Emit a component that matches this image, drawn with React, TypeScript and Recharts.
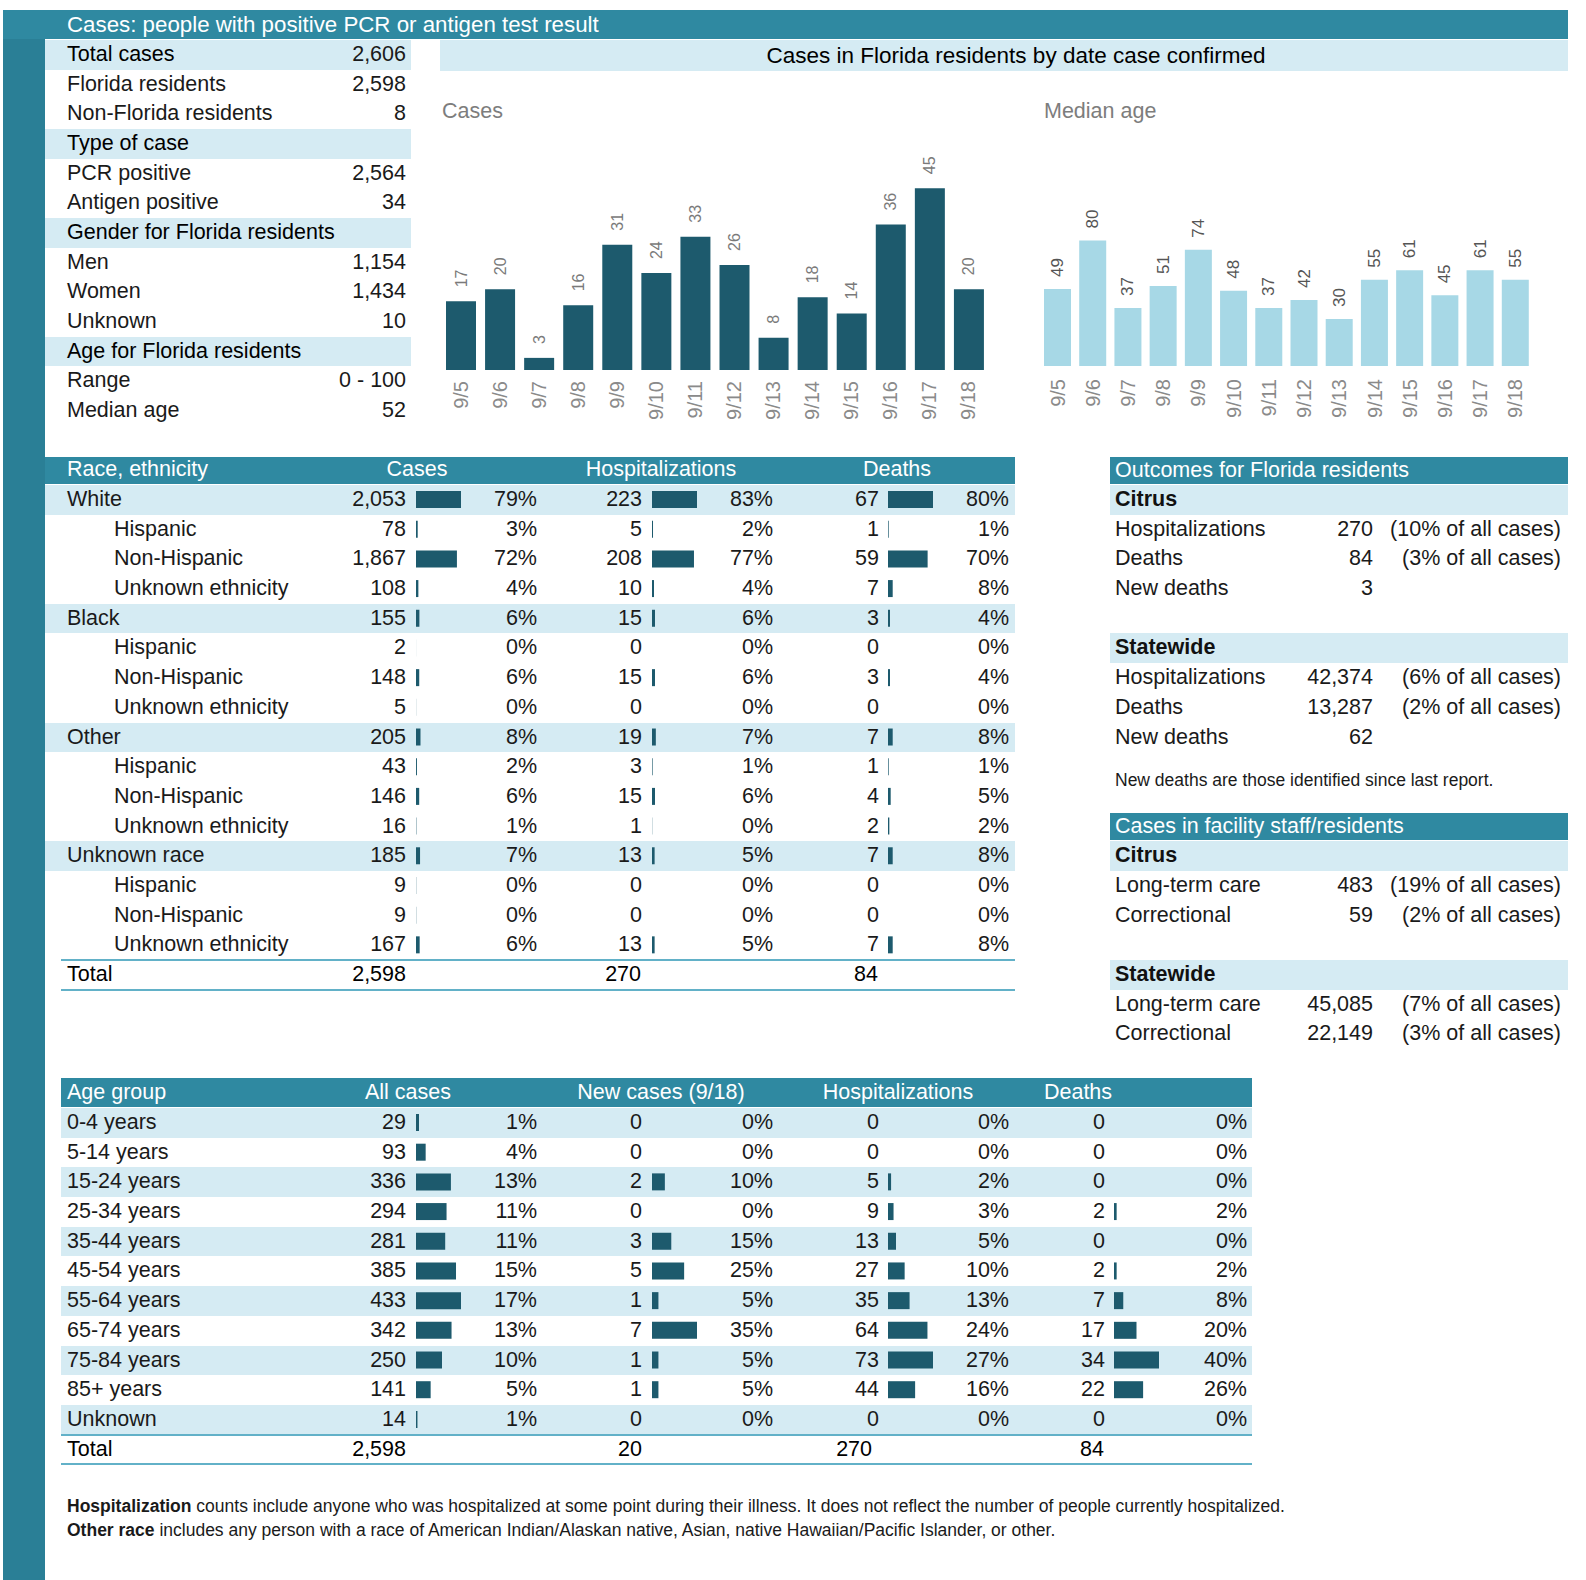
import React from "react";
import { BarChart, Bar, XAxis, YAxis, LabelList } from "recharts";

const FONT = '"Liberation Sans", Arial, Helvetica, sans-serif';
const TEAL = "#2f89a1";
const STRIPE = "#2a7f96";
const BAND = "#d5ebf3";
const DARK = "#1d5a6d";
const LIGHT = "#a7d8e6";
const RULE = "#62b1c8";
const ROW = 29.69;
const FS = 21.5;

// summary block
const summaryLabels = [
  "Total cases",
  "Florida residents",
  "Non-Florida residents",
  "Type of case",
  "PCR positive",
  "Antigen positive",
  "Gender for Florida residents",
  "Men",
  "Women",
  "Unknown",
  "Age for Florida residents",
  "Range",
  "Median age",
];
const summaryValues = ["2,606", "2,598", "8", "", "2,564", "34", "", "1,154", "1,434", "10", "", "0 - 100", "52"];
const summaryBandRows = [0, 3, 6, 10];

// daily charts
const dates = ["9/5", "9/6", "9/7", "9/8", "9/9", "9/10", "9/11", "9/12", "9/13", "9/14", "9/15", "9/16", "9/17", "9/18"];
const dailyCases = [17, 20, 3, 16, 31, 24, 33, 26, 8, 18, 14, 36, 45, 20];
const dailyMedianAge = [49, 80, 37, 51, 74, 48, 37, 42, 30, 55, 61, 45, 61, 55];

// race / ethnicity table
const raceGroups = ["White", "Black", "Other", "Unknown race"];
const ethnicities = ["Hispanic", "Non-Hispanic", "Unknown ethnicity"];
const raceCases = [2053, 78, 1867, 108, 155, 2, 148, 5, 205, 43, 146, 16, 185, 9, 9, 167];
const raceCasesPct = [79, 3, 72, 4, 6, 0, 6, 0, 8, 2, 6, 1, 7, 0, 0, 6];
const raceHosp = [223, 5, 208, 10, 15, 0, 15, 0, 19, 3, 15, 1, 13, 0, 0, 13];
const raceHospPct = [83, 2, 77, 4, 6, 0, 6, 0, 7, 1, 6, 0, 5, 0, 0, 5];
const raceDeaths = [67, 1, 59, 7, 3, 0, 3, 0, 7, 1, 4, 2, 7, 0, 0, 7];
const raceDeathsPct = [80, 1, 70, 8, 4, 0, 4, 0, 8, 1, 5, 2, 8, 0, 0, 8];
const raceTotals = ["2,598", "270", "84"];

// age table
const ageGroups = ["0-4 years", "5-14 years", "15-24 years", "25-34 years", "35-44 years", "45-54 years", "55-64 years", "65-74 years", "75-84 years", "85+ years", "Unknown"];
const ageCases = [29, 93, 336, 294, 281, 385, 433, 342, 250, 141, 14];
const ageCasesPct = [1, 4, 13, 11, 11, 15, 17, 13, 10, 5, 1];
const ageNew = [0, 0, 2, 0, 3, 5, 1, 7, 1, 1, 0];
const ageNewPct = [0, 0, 10, 0, 15, 25, 5, 35, 5, 5, 0];
const ageHosp = [0, 0, 5, 9, 13, 27, 35, 64, 73, 44, 0];
const ageHospPct = [0, 0, 2, 3, 5, 10, 13, 24, 27, 16, 0];
const ageDeaths = [0, 0, 0, 2, 0, 2, 7, 17, 34, 22, 0];
const ageDeathsPct = [0, 0, 0, 2, 0, 2, 8, 20, 40, 26, 0];
const ageTotals = ["2,598", "20", "270", "84"];

// outcomes / facilities
const outcomeLabels = ["Hospitalizations", "Deaths", "New deaths"];
const outcomeCitrus = ["270", "84", "3"];
const outcomeCitrusNote = ["(10% of all cases)", "(3% of all cases)", ""];
const outcomeState = ["42,374", "13,287", "62"];
const outcomeStateNote = ["(6% of all cases)", "(2% of all cases)", ""];
const facilityLabels = ["Long-term care", "Correctional"];
const facilityCitrus = ["483", "59"];
const facilityCitrusNote = ["(19% of all cases)", "(2% of all cases)"];
const facilityState = ["45,085", "22,149"];
const facilityStateNote = ["(7% of all cases)", "(3% of all cases)"];

type TxtProps = {
  x: number;
  y: number;
  h?: number;
  align?: "left" | "right" | "center";
  size?: number;
  color?: string;
  weight?: number;
  children?: React.ReactNode;
};

function Txt({ x, y, h = ROW, align = "left", size = FS, color = "#1a1a1a", weight = 400, children }: TxtProps) {
  const w = 800;
  const left = align === "left" ? x : align === "right" ? x - w : x - w / 2;
  return (
    <div
      style={{
        position: "absolute",
        left,
        top: y,
        width: w,
        height: h,
        lineHeight: `${h}px`,
        textAlign: align,
        fontSize: size,
        color,
        fontWeight: weight,
        whiteSpace: "nowrap",
      }}
    >
      {children}
    </div>
  );
}

function Box({ x, y, w, h, c }: { x: number; y: number; w: number; h: number; c: string }) {
  return <div style={{ position: "absolute", left: x, top: y, width: w, height: h, background: c }} />;
}

function InlineBars({ values, left, top }: { values: number[]; left: number; top: number }) {
  const data = values.map((v, i) => ({ row: i, v }));
  const max = Math.max(...values);
  return (
    <div style={{ position: "absolute", left, top }}>
      <BarChart
        layout="vertical"
        width={45}
        height={ROW * values.length}
        data={data}
        margin={{ top: 0, right: 0, bottom: 0, left: 0 }}
      >
        <XAxis type="number" domain={[0, max]} hide />
        <YAxis type="category" dataKey="row" hide />
        <Bar dataKey="v" fill={DARK} barSize={17} isAnimationActive={false} />
      </BarChart>
    </div>
  );
}

const renderTick = (p: any, off: number) => (
  <text
    transform={`translate(${p.x},${p.y + off}) rotate(-90)`}
    textAnchor="end"
    dominantBaseline="central"
    fontSize={20}
    fill="#8a8a8a"
    fontFamily={FONT}
  >
    {p.payload.value}
  </text>
);

const renderTopLabel = (p: any, gap: number, size: number, color: string) => (
  <text
    transform={`translate(${Number(p.x) + Number(p.width) / 2},${Number(p.y) - gap}) rotate(-90)`}
    textAnchor="start"
    dominantBaseline="central"
    fontSize={size}
    fill={color}
    fontFamily={FONT}
  >
    {p.value}
  </text>
);

function DailyChart({
  values,
  left,
  top,
  width,
  height,
  marginTop,
  max,
  barSize,
  color,
  tickOff,
  labelGap,
  labelSize,
  labelColor,
}: {
  values: number[];
  left: number;
  top: number;
  width: number;
  height: number;
  marginTop: number;
  max: number;
  barSize: number;
  color: string;
  tickOff: number;
  labelGap: number;
  labelSize: number;
  labelColor: string;
}) {
  const data = dates.map((d, i) => ({ date: d, value: values[i] }));
  return (
    <div style={{ position: "absolute", left, top }}>
      <BarChart width={width} height={height} data={data} margin={{ top: marginTop, right: 0, bottom: 0, left: 0 }}>
        <XAxis
          dataKey="date"
          interval={0}
          height={60}
          axisLine={false}
          tickLine={false}
          tickSize={0}
          tickMargin={0}
          tick={(p: any) => renderTick(p, tickOff)}
        />
        <YAxis hide domain={[0, max]} />
        <Bar dataKey="value" fill={color} barSize={barSize} isAnimationActive={false}>
          <LabelList dataKey="value" content={(p: any) => renderTopLabel(p, labelGap, labelSize, labelColor)} />
        </Bar>
      </BarChart>
    </div>
  );
}

const pct = (v: number) => `${v}%`;
const num = (v: number) => v.toLocaleString("en-US");

export default function App() {
  const raceTop = 485;
  const ageTop = 1108;
  const raceRows: { label: string; sub: boolean }[] = [];
  raceGroups.forEach((g) => {
    raceRows.push({ label: g, sub: false });
    ethnicities.forEach((e) => raceRows.push({ label: e, sub: true }));
  });

  const rightRow = (i: number) => raceTop + i * ROW;

  return (
    <div
      style={{
        position: "absolute",
        left: 0,
        top: 0,
        width: 1586,
        height: 1580,
        background: "#fff",
        overflow: "hidden",
        fontFamily: FONT,
      }}
    >
      {/* frame */}
      <Box x={3} y={10} w={42} h={1570} c={STRIPE} />
      <Box x={3} y={10} w={1565} h={29} c={TEAL} />
      <Txt x={67} y={10} h={29} size={22.3} color="#fff">
        Cases: people with positive PCR or antigen test result
      </Txt>

      {/* summary */}
      {summaryBandRows.map((r) => (
        <Box key={r} x={45} y={40 + r * 29.67} w={366} h={29.67} c={BAND} />
      ))}
      {summaryLabels.map((l, i) => (
        <React.Fragment key={l}>
          <Txt x={67} y={40 + i * 29.67} h={29.67} color={summaryBandRows.includes(i) ? "#000" : "#1a1a1a"}>
            {l}
          </Txt>
          <Txt x={406} y={40 + i * 29.67} h={29.67} align="right">
            {summaryValues[i]}
          </Txt>
        </React.Fragment>
      ))}

      {/* daily charts */}
      <Box x={440} y={40} w={1128} h={31} c={BAND} />
      <Txt x={1016} y={40} h={31} size={22.5} align="center" color="#000">
        Cases in Florida residents by date case confirmed
      </Txt>
      <Txt x={442} y={96} h={30} color="#7d7d7d">
        Cases
      </Txt>
      <Txt x={1044} y={96} h={30} color="#7d7d7d">
        Median age
      </Txt>
      <DailyChart
        values={dailyCases}
        left={441}
        top={150}
        width={547}
        height={280}
        marginTop={18}
        max={50}
        barSize={30}
        color={DARK}
        tickOff={11}
        labelGap={14}
        labelSize={16}
        labelColor="#7a7a7a"
      />
      <DailyChart
        values={dailyMedianAge}
        left={1040}
        top={190}
        width={493}
        height={236}
        marginTop={19}
        max={100}
        barSize={27}
        color={LIGHT}
        tickOff={13}
        labelGap={12}
        labelSize={17}
        labelColor="#555"
      />

      {/* race table */}
      <Box x={45} y={457} w={970} h={27} c={TEAL} />
      <Txt x={67} y={456} h={27} color="#fff">Race, ethnicity</Txt>
      <Txt x={417} y={456} h={27} align="center" color="#fff">Cases</Txt>
      <Txt x={661} y={456} h={27} align="center" color="#fff">Hospitalizations</Txt>
      <Txt x={897} y={456} h={27} align="center" color="#fff">Deaths</Txt>
      {raceRows.map((r, i) =>
        r.sub ? null : <Box key={"rb" + i} x={45} y={raceTop + i * ROW} w={970} h={ROW} c={BAND} />
      )}
      {raceRows.map((r, i) => (
        <React.Fragment key={"r" + i}>
          <Txt x={r.sub ? 114 : 67} y={raceTop + i * ROW}>{r.label}</Txt>
          <Txt x={406} y={raceTop + i * ROW} align="right">{num(raceCases[i])}</Txt>
          <Txt x={537} y={raceTop + i * ROW} align="right">{pct(raceCasesPct[i])}</Txt>
          <Txt x={642} y={raceTop + i * ROW} align="right">{num(raceHosp[i])}</Txt>
          <Txt x={773} y={raceTop + i * ROW} align="right">{pct(raceHospPct[i])}</Txt>
          <Txt x={879} y={raceTop + i * ROW} align="right">{num(raceDeaths[i])}</Txt>
          <Txt x={1009} y={raceTop + i * ROW} align="right">{pct(raceDeathsPct[i])}</Txt>
        </React.Fragment>
      ))}
      <InlineBars values={raceCases} left={416} top={raceTop} />
      <InlineBars values={raceHosp} left={652} top={raceTop} />
      <InlineBars values={raceDeaths} left={888} top={raceTop} />
      <Box x={61} y={raceTop + 16 * ROW - 1} w={954} h={2} c={RULE} />
      <Txt x={67} y={raceTop + 16 * ROW} color="#000">Total</Txt>
      <Txt x={406} y={raceTop + 16 * ROW} align="right" color="#000">{raceTotals[0]}</Txt>
      <Txt x={641} y={raceTop + 16 * ROW} align="right" color="#000">{raceTotals[1]}</Txt>
      <Txt x={878} y={raceTop + 16 * ROW} align="right" color="#000">{raceTotals[2]}</Txt>
      <Box x={61} y={raceTop + 17 * ROW - 1} w={954} h={2} c={RULE} />

      {/* outcomes */}
      <Box x={1110} y={457} w={458} h={27} c={TEAL} />
      <Txt x={1115} y={457} h={27} color="#fff">Outcomes for Florida residents</Txt>
      <Box x={1110} y={rightRow(0)} w={458} h={ROW} c={BAND} />
      <Txt x={1115} y={rightRow(0)} weight={700} color="#111">Citrus</Txt>
      {outcomeLabels.map((l, i) => (
        <React.Fragment key={"oc" + i}>
          <Txt x={1115} y={rightRow(1 + i)}>{l}</Txt>
          <Txt x={1373} y={rightRow(1 + i)} align="right">{outcomeCitrus[i]}</Txt>
          <Txt x={1561} y={rightRow(1 + i)} align="right">{outcomeCitrusNote[i]}</Txt>
        </React.Fragment>
      ))}
      <Box x={1110} y={rightRow(5)} w={458} h={ROW} c={BAND} />
      <Txt x={1115} y={rightRow(5)} weight={700} color="#111">Statewide</Txt>
      {outcomeLabels.map((l, i) => (
        <React.Fragment key={"os" + i}>
          <Txt x={1115} y={rightRow(6 + i)}>{l}</Txt>
          <Txt x={1373} y={rightRow(6 + i)} align="right">{outcomeState[i]}</Txt>
          <Txt x={1561} y={rightRow(6 + i)} align="right">{outcomeStateNote[i]}</Txt>
        </React.Fragment>
      ))}
      <Txt x={1115} y={768} h={24} size={17.5}>New deaths are those identified since last report.</Txt>

      {/* facilities */}
      <Box x={1110} y={813} w={458} h={27} c={TEAL} />
      <Txt x={1115} y={813} h={27} color="#fff">Cases in facility staff/residents</Txt>
      <Box x={1110} y={rightRow(12)} w={458} h={ROW} c={BAND} />
      <Txt x={1115} y={rightRow(12)} weight={700} color="#111">Citrus</Txt>
      {facilityLabels.map((l, i) => (
        <React.Fragment key={"fc" + i}>
          <Txt x={1115} y={rightRow(13 + i)}>{l}</Txt>
          <Txt x={1373} y={rightRow(13 + i)} align="right">{facilityCitrus[i]}</Txt>
          <Txt x={1561} y={rightRow(13 + i)} align="right">{facilityCitrusNote[i]}</Txt>
        </React.Fragment>
      ))}
      <Box x={1110} y={rightRow(16)} w={458} h={ROW} c={BAND} />
      <Txt x={1115} y={rightRow(16)} weight={700} color="#111">Statewide</Txt>
      {facilityLabels.map((l, i) => (
        <React.Fragment key={"fs" + i}>
          <Txt x={1115} y={rightRow(17 + i)}>{l}</Txt>
          <Txt x={1373} y={rightRow(17 + i)} align="right">{facilityState[i]}</Txt>
          <Txt x={1561} y={rightRow(17 + i)} align="right">{facilityStateNote[i]}</Txt>
        </React.Fragment>
      ))}

      {/* age table */}
      <Box x={61} y={1078} w={1191} h={29} c={TEAL} />
      <Txt x={67} y={1078} h={29} color="#fff">Age group</Txt>
      <Txt x={408} y={1078} h={29} align="center" color="#fff">All cases</Txt>
      <Txt x={661} y={1078} h={29} align="center" color="#fff">New cases (9/18)</Txt>
      <Txt x={898} y={1078} h={29} align="center" color="#fff">Hospitalizations</Txt>
      <Txt x={1078} y={1078} h={29} align="center" color="#fff">Deaths</Txt>
      {ageGroups.map((g, i) =>
        i % 2 === 0 ? <Box key={"ab" + i} x={61} y={ageTop + i * ROW} w={1191} h={ROW} c={BAND} /> : null
      )}
      {ageGroups.map((g, i) => (
        <React.Fragment key={"a" + i}>
          <Txt x={67} y={ageTop + i * ROW}>{g}</Txt>
          <Txt x={406} y={ageTop + i * ROW} align="right">{num(ageCases[i])}</Txt>
          <Txt x={537} y={ageTop + i * ROW} align="right">{pct(ageCasesPct[i])}</Txt>
          <Txt x={642} y={ageTop + i * ROW} align="right">{num(ageNew[i])}</Txt>
          <Txt x={773} y={ageTop + i * ROW} align="right">{pct(ageNewPct[i])}</Txt>
          <Txt x={879} y={ageTop + i * ROW} align="right">{num(ageHosp[i])}</Txt>
          <Txt x={1009} y={ageTop + i * ROW} align="right">{pct(ageHospPct[i])}</Txt>
          <Txt x={1105} y={ageTop + i * ROW} align="right">{num(ageDeaths[i])}</Txt>
          <Txt x={1247} y={ageTop + i * ROW} align="right">{pct(ageDeathsPct[i])}</Txt>
        </React.Fragment>
      ))}
      <InlineBars values={ageCases} left={416} top={ageTop} />
      <InlineBars values={ageNew} left={652} top={ageTop} />
      <InlineBars values={ageHosp} left={888} top={ageTop} />
      <InlineBars values={ageDeaths} left={1114} top={ageTop} />
      <Box x={61} y={ageTop + 11 * ROW - 1} w={1191} h={2} c={RULE} />
      <Txt x={67} y={ageTop + 11 * ROW} color="#000">Total</Txt>
      <Txt x={406} y={ageTop + 11 * ROW} align="right" color="#000">{ageTotals[0]}</Txt>
      <Txt x={642} y={ageTop + 11 * ROW} align="right" color="#000">{ageTotals[1]}</Txt>
      <Txt x={872} y={ageTop + 11 * ROW} align="right" color="#000">{ageTotals[2]}</Txt>
      <Txt x={1104} y={ageTop + 11 * ROW} align="right" color="#000">{ageTotals[3]}</Txt>
      <Box x={61} y={ageTop + 12 * ROW - 1} w={1191} h={2} c={RULE} />

      {/* footnotes */}
      <Txt x={67} y={1494} h={24} size={17.5}>
        <b>Hospitalization</b> counts include anyone who was hospitalized at some point during their illness. It does not reflect the number of people currently hospitalized.
      </Txt>
      <Txt x={67} y={1518} h={24} size={17.5}>
        <b>Other race</b> includes any person with a race of American Indian/Alaskan native, Asian, native Hawaiian/Pacific Islander, or other.
      </Txt>
    </div>
  );
}
